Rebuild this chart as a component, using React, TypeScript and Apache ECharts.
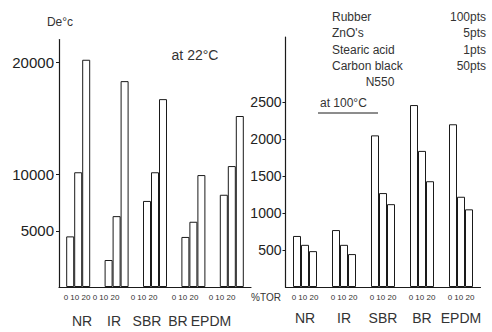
import React, { useEffect, useRef } from "react";
import * as echarts from "echarts";

// Materials (groups) and TOR levels (phr)
const categories = ["NR", "IR", "SBR", "BR", "EPDM"];
const torLevels = ["0", "10", "20"];

// at 22°C
const tor0At22 = [4500, 2400, 7650, 4450, 8200];
const tor10At22 = [10200, 6300, 10200, 5800, 10750];
const tor20At22 = [20200, 18300, 16700, 9950, 15200];

// at 100°C
const tor0At100 = [690, 770, 2050, 2460, 2200];
const tor10At100 = [570, 570, 1270, 1840, 1220];
const tor20At100 = [485, 445, 1120, 1430, 1050];

// tick labels
const leftTicks = [5000, 10000, 20000];
const rightTicks = [500, 1000, 1500, 2000, 2500];

// recipe legend
const recipeNames = ["Rubber", "ZnO's", "Stearic acid", "Carbon black"];
const recipeAmounts = ["100pts", "5pts", "1pts", "50pts"];

const FONT = "'Liberation Sans', Arial, sans-serif";
const INK = "#1a1a1a";

// layout for left-panel bottom labels (scan is compressed there)
const leftSmallX = [77, 106, 144, 185, 222];
const leftNameX = [82, 114, 147, 178, 211];

export default function App() {
  const ref = useRef<HTMLDivElement>(null);
  useEffect(() => {
    if (!ref.current) return;
    const chart = echarts.init(ref.current, null, { renderer: "svg" });
    const torLabel = torLevels.join(" ");
    const barStyle = { color: "#fff", borderColor: INK, borderWidth: 1 };
    const mk = (data: number[], axis: number, name: string) => ({
      type: "bar",
      name,
      xAxisIndex: axis,
      yAxisIndex: axis,
      data,
      barWidth: 8,
      barGap: "0%",
      itemStyle: barStyle,
      silent: true,
    });
    const recipeTexts: any[] = [];
    recipeNames.forEach((n, i) => {
      recipeTexts.push({
        type: "text",
        x: 332,
        y: 17 + i * 16.3,
        style: { text: n, font: `12px ${FONT}`, fill: "#333", textVerticalAlign: "middle", textAlign: "left" },
      });
      recipeTexts.push({
        type: "text",
        x: 486,
        y: 17 + i * 16.3,
        style: { text: recipeAmounts[i], font: `12px ${FONT}`, fill: "#333", textVerticalAlign: "middle", textAlign: "right" },
      });
    });
    const leftLabels: any[] = [];
    categories.forEach((c, i) => {
      leftLabels.push({
        type: "text",
        x: leftSmallX[i],
        y: 297,
        style: { text: torLabel, font: `8px ${FONT}`, fill: "#333", textAlign: "center", textVerticalAlign: "middle" },
      });
      leftLabels.push({
        type: "text",
        x: leftNameX[i],
        y: 321,
        style: { text: c, font: `14px ${FONT}`, fill: "#333", textAlign: "center", textVerticalAlign: "middle" },
      });
    });
    const plain = (v: number) => String(v);
    const option: any = {
      animation: false,
      backgroundColor: "#fff",
      textStyle: { fontFamily: FONT },
      grid: [
        { left: 59, width: 192, top: 39.5, height: 247.5 },
        { left: 285.5, width: 195, top: 37, height: 250 },
      ],
      xAxis: [
        {
          gridIndex: 0,
          type: "category",
          data: categories,
          axisLine: { lineStyle: { color: INK, width: 1.2 } },
          axisTick: { show: false },
          axisLabel: { show: false },
        },
        {
          gridIndex: 1,
          type: "category",
          data: categories,
          axisLine: { lineStyle: { color: INK, width: 1.2 } },
          axisTick: { show: false },
          axisLabel: {
            interval: 0,
            margin: 4,
            formatter: (v: string) => `{s|${torLabel}}\n{b|${v}}`,
            rich: {
              s: { fontSize: 8, lineHeight: 12, color: "#333", fontFamily: FONT },
              b: { fontSize: 14, lineHeight: 30, color: "#333", fontFamily: FONT },
            },
          },
        },
      ],
      yAxis: [
        {
          gridIndex: 0,
          type: "value",
          min: 0,
          max: 22000,
          interval: 5000,
          splitLine: { show: false },
          axisLine: { show: true, lineStyle: { color: INK, width: 1.2 } },
          axisTick: { show: true, length: 3, customValues: leftTicks, lineStyle: { color: INK } },
          axisLabel: { customValues: leftTicks, formatter: plain, fontSize: 15, color: "#222", margin: 5, fontFamily: FONT },
        },
        {
          gridIndex: 1,
          type: "value",
          min: 0,
          max: 3380,
          interval: 500,
          splitLine: { show: false },
          axisLine: { show: true, lineStyle: { color: INK, width: 1.2 } },
          axisTick: { show: true, length: 3, customValues: rightTicks, lineStyle: { color: INK } },
          axisLabel: { customValues: rightTicks, formatter: plain, fontSize: 14, color: "#222", margin: 4, fontFamily: FONT },
        },
      ],
      series: [
        mk(tor0At22, 0, "0"),
        mk(tor10At22, 0, "10"),
        mk(tor20At22, 0, "20"),
        mk(tor0At100, 1, "0"),
        mk(tor10At100, 1, "10"),
        mk(tor20At100, 1, "20"),
      ],
      graphic: [
        {
          type: "text",
          x: 60,
          y: 22,
          style: { text: "De°c", font: `12px ${FONT}`, fill: "#333", textAlign: "center", textVerticalAlign: "middle" },
        },
        {
          type: "text",
          x: 195,
          y: 55,
          style: { text: "at 22°C", font: `14px ${FONT}`, fill: "#333", textAlign: "center", textVerticalAlign: "middle" },
        },
        ...recipeTexts,
        {
          type: "text",
          x: 380,
          y: 82,
          style: { text: "N550", font: `12px ${FONT}`, fill: "#333", textAlign: "center", textVerticalAlign: "middle" },
        },
        {
          type: "text",
          x: 320,
          y: 103,
          style: { text: "at 100°C", font: `12px ${FONT}`, fill: "#333", textAlign: "left", textVerticalAlign: "middle" },
        },
        {
          type: "line",
          shape: { x1: 318, y1: 113, x2: 378, y2: 113 },
          style: { stroke: INK, lineWidth: 1 },
        },
        {
          type: "text",
          x: 266,
          y: 297,
          style: { text: "%TOR", font: `10px ${FONT}`, fill: "#333", textAlign: "center", textVerticalAlign: "middle" },
        },
        ...leftLabels,
      ],
    };
    chart.setOption(option);
    return () => chart.dispose();
  }, []);
  return (
    <div
      ref={ref}
      style={{ position: "fixed", left: 0, top: 0, width: 492, height: 332, background: "#fff" }}
    />
  );
}
